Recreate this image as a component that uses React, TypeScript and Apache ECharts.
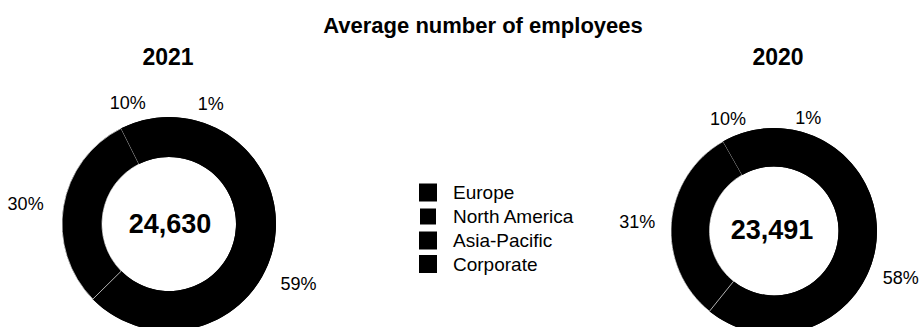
import React, { useEffect, useRef } from "react";
import * as echarts from "echarts";

const categories = ["Europe", "North America", "Asia-Pacific", "Corporate"];
const years = ["2021", "2020"];
const share2021 = [59, 30, 10, 1];
const share2020 = [58, 31, 10, 1];
const totals = [24630, 23491];
const chartTitle = "Average number of employees";

const FONT = "'Liberation Sans', Arial, sans-serif";

export default function App() {
  const ref = useRef<HTMLDivElement>(null);

  useEffect(() => {
    if (!ref.current) return;
    const chart = echarts.init(ref.current, null, { renderer: "svg" });

    // Only the North America slice shows thin separators.
    const sliceStyle = (i: number) =>
      i === 1
        ? { color: "#000", borderColor: "#fff", borderWidth: 0.7 }
        : { color: "#000", borderWidth: 0 };

    const makeData = (values: number[]) =>
      categories.map((name, i) => ({
        name,
        value: values[i],
        itemStyle: sliceStyle(i),
      }));

    const pieBase = {
      type: "pie" as const,
      clockwise: true,
      silent: true,
      emphasis: { disabled: true },
      label: {
        show: true,
        position: "outside",
        formatter: "{c}%",
        fontFamily: FONT,
        fontSize: 18,
        color: "#000",
        distanceToLabelLine: 5,
        bleedMargin: 0,
      },
      itemStyle: { color: "#000" },
      z: 3,
    };

    // solid backing ring so that anti-aliasing seams between black slices do not show
    const backing = (center: number[], radius: number[]) => ({
      type: "pie" as const,
      silent: true,
      emphasis: { disabled: true },
      center,
      radius,
      z: 1,
      label: { show: false },
      labelLine: { show: false },
      itemStyle: { color: "#000", borderWidth: 0 },
      data: [{ name: "_ring", value: 1 }],
    });

    const titleStyle = (size: number) => ({
      fontFamily: FONT,
      fontSize: size,
      fontWeight: "bold" as const,
      color: "#000",
    });

    const centers = [
      [169, 224],
      [774, 231],
    ];
    const radii = [
      [67, 107],
      [64.5, 103],
    ];

    chart.setOption({
      animation: false,
      backgroundColor: "#fff",
      color: ["#000", "#000", "#000", "#000"],
      title: [
        {
          text: chartTitle,
          left: 483,
          top: 25,
          padding: 0,
          textAlign: "center",
          textVerticalAlign: "middle",
          textStyle: titleStyle(22),
        },
        {
          text: years[0],
          left: 168,
          top: 57,
          padding: 0,
          textAlign: "center",
          textVerticalAlign: "middle",
          textStyle: titleStyle(23),
        },
        {
          text: years[1],
          left: 778,
          top: 57,
          padding: 0,
          textAlign: "center",
          textVerticalAlign: "middle",
          textStyle: titleStyle(23),
        },
        {
          text: totals[0].toLocaleString("en-US"),
          left: 170,
          top: 224,
          padding: 0,
          textAlign: "center",
          textVerticalAlign: "middle",
          textStyle: titleStyle(27),
        },
        {
          text: totals[1].toLocaleString("en-US"),
          left: 772,
          top: 230,
          padding: 0,
          textAlign: "center",
          textVerticalAlign: "middle",
          textStyle: titleStyle(27),
        },
      ],
      legend: {
        orient: "vertical",
        left: 418,
        top: 183,
        padding: 0,
        itemWidth: 18,
        itemHeight: 18,
        itemGap: 4.5,
        icon: "rect",
        selectedMode: false,
        data: categories,
        textStyle: {
          fontFamily: FONT,
          fontSize: 19,
          color: "#000",
          padding: [0, 0, 0, 11],
        },
      },
      series: [
        backing(centers[0], radii[0]),
        backing(centers[1], radii[1]),
        {
          ...pieBase,
          name: years[0],
          center: centers[0],
          radius: radii[0],
          startAngle: 77,
          labelLine: { show: false, length: 15, length2: 0 },
          data: makeData(share2021),
        },
        {
          ...pieBase,
          name: years[1],
          center: centers[1],
          radius: radii[1],
          startAngle: 80,
          labelLine: { show: false, length: 11, length2: 0 },
          data: makeData(share2020),
        },
      ],
    });

    return () => chart.dispose();
  }, []);

  return (
    <div
      ref={ref}
      style={{ position: "fixed", left: 0, top: 0, width: 920, height: 327, background: "#fff" }}
    />
  );
}
